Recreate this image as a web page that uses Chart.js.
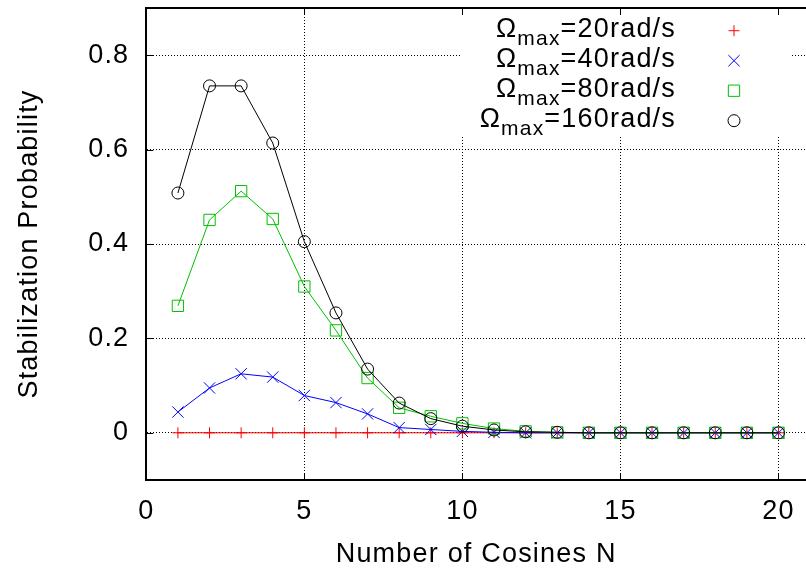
<!DOCTYPE html>
<html>
<head>
<meta charset="utf-8">
<script src="https://cdn.jsdelivr.net/npm/chart.js@4"></script>
<style>
  html, body { margin: 0; padding: 0; background: #fff; }
  canvas { display: block; }
</style>
</head>
<body>
<canvas id="chart" width="806" height="574"></canvas>
<script>
// number of cosines N
let nValues = [1, 2, 3, 4, 5, 6, 7, 8, 9, 10, 11, 12, 13, 14, 15, 16, 17, 18, 19, 20];

// stabilization probability for each Omega_max
let omega20 = [0, 0, 0, 0, 0, 0, 0, 0, 0, 0, 0, 0, 0, 0, 0, 0, 0, 0, 0, 0];
let omega40 = [0.044, 0.095, 0.125, 0.118, 0.079, 0.064, 0.040, 0.011, 0.007, 0.003, 0.001, 0, 0, 0, 0, 0, 0, 0, 0, 0];
let omega80 = [0.269, 0.451, 0.512, 0.453, 0.310, 0.217, 0.116, 0.053, 0.035, 0.020, 0.009, 0.003, 0.001, 0, 0, 0, 0, 0, 0, 0];
let omega160 = [0.508, 0.735, 0.735, 0.614, 0.405, 0.254, 0.135, 0.063, 0.030, 0.014, 0.006, 0.002, 0.001, 0, 0, 0, 0, 0, 0, 0];

let seriesLabels = ["20rad/s", "40rad/s", "80rad/s", "160rad/s"];
let xTicks = [0, 5, 10, 15, 20];
let yTicks = [0, 0.2, 0.4, 0.6, 0.8];
let yTickLabels = ["0", "0.2", "0.4", "0.6", "0.8"];

const FONT = "'Liberation Sans', Arial, sans-serif";
const font = { family: FONT, size: 27 };

// gnuplot-like look for each series
const looks = [
    { color: "#ff0000", point: "cross", r: 5.5 },
    { color: "#0000ff", point: "crossRot", r: 8 },
    { color: "#00c000", point: "rect", r: 8 },
    { color: "#000000", point: "circle", r: 6 }
];

let series = [omega20, omega40, omega80, omega160];

let datasets = series.map((vals, k) => ({
    label: seriesLabels[k],
    data: nValues.map((n, i) => ({ x: n, y: vals[i] })),
    borderColor: looks[k].color,
    borderWidth: 1,
    pointStyle: looks[k].point,
    pointRadius: looks[k].r,
    pointBorderColor: looks[k].color,
    pointBackgroundColor: "rgba(0,0,0,0)",
    pointBorderWidth: 1,
    tension: 0,
    fill: false,
    order: 3 - k
}));

function noPad(s) {
    s.paddingLeft = 0;
    s.paddingRight = 0;
    s.paddingTop = 0;
    s.paddingBottom = 0;
}

const frame = {
    id: "frame",
    beforeDraw(c) {
        c.ctx.letterSpacing = "1.2px";
    },
    afterDraw(c) {
        const ctx = c.ctx, a = c.chartArea, xs = c.scales.x, ys = c.scales.y;
        ctx.save();

        // key box
        ctx.fillStyle = "#fff";
        ctx.fillRect(462, 14, 328, 123);

        c.data.datasets.forEach((ds, i) => {
            let base = 36.7 + 30 * i;
            let rest = "=" + ds.label;
            ctx.fillStyle = "#000";
            ctx.textAlign = "right";
            ctx.textBaseline = "alphabetic";
            ctx.font = "27px " + FONT;
            ctx.fillText(rest, 676, base);
            let w = ctx.measureText(rest).width;
            ctx.font = "21px " + FONT;
            ctx.fillText("max", 676 - w, base + 8);
            let w2 = ctx.measureText("max").width;
            ctx.font = "27px " + FONT;
            ctx.fillText("\u03A9", 676 - w - w2, base);

            ctx.strokeStyle = ds.borderColor;
            ctx.fillStyle = "rgba(0,0,0,0)";
            ctx.lineWidth = 1;
            Chart.helpers.drawPoint(ctx, {
                pointStyle: ds.pointStyle, radius: ds.pointRadius, rotation: 0, borderWidth: 1
            }, 734, base - 6);
        });

        // top border and inward tick marks
        ctx.strokeStyle = "#000";
        ctx.lineWidth = 2;
        ctx.beginPath();
        ctx.moveTo(a.left - 1, a.top);
        ctx.lineTo(a.right, a.top);
        ctx.stroke();

        ctx.lineWidth = 1;
        ctx.beginPath();
        xTicks.forEach(v => {
            let px = Math.round(xs.getPixelForValue(v)) + 0.5;
            ctx.moveTo(px, a.bottom);
            ctx.lineTo(px, a.bottom - 7);
            ctx.moveTo(px, a.top);
            ctx.lineTo(px, a.top + 7);
        });
        yTicks.forEach(v => {
            let py = Math.round(ys.getPixelForValue(v)) + 0.5;
            ctx.moveTo(a.left, py);
            ctx.lineTo(a.left + 7, py);
        });
        ctx.stroke();
        ctx.restore();
    }
};

new Chart(document.getElementById("chart"), {
    type: "line",
    data: { datasets: datasets },
    options: {
        responsive: false,
        animation: false,
        layout: { autoPadding: false, padding: { top: 8, left: 0, right: 0, bottom: 0 } },
        plugins: { legend: { display: false }, tooltip: { enabled: false } },
        scales: {
            x: {
                type: "linear",
                min: 0,
                max: 20.87,
                afterBuildTicks: s => { s.ticks = xTicks.map(v => ({ value: v })); },
                afterFit: s => { s.height = 94; noPad(s); },
                grid: { color: "#000", lineWidth: 1, drawTicks: false },
                border: { color: "#000", width: 2, dash: [1, 2] },
                ticks: { color: "#000", font: font, padding: 15, maxRotation: 0, autoSkip: false,
                    callback: v => String(v) },
                title: { display: true, text: "Number of Cosines N", color: "#000", font: font,
                    padding: { top: 0, bottom: 3 } }
            },
            y: {
                type: "linear",
                min: -0.1,
                max: 0.9,
                afterBuildTicks: s => { s.ticks = yTicks.map(v => ({ value: v })); },
                afterFit: s => { s.width = 146.3; noPad(s); },
                grid: { color: "#000", lineWidth: 1, drawTicks: false },
                border: { color: "#000", width: 2, dash: [1, 2] },
                ticks: { color: "#000", font: font, padding: 17, autoSkip: false,
                    callback: (v, i) => yTickLabels[i] },
                title: { display: true, text: "Stabilization Probability", color: "#000", font: font,
                    padding: { top: 13, bottom: 0 } }
            }
        }
    },
    plugins: [frame]
});
</script>
</body>
</html>
